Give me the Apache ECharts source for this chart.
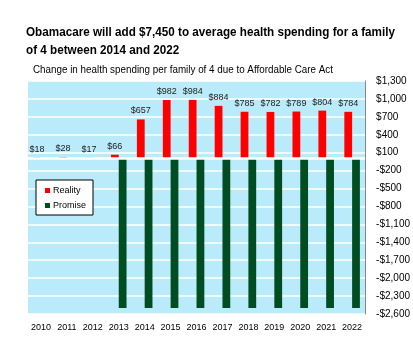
<!DOCTYPE html>
<html>
<head>
<meta charset="utf-8">
<script src="https://cdn.jsdelivr.net/npm/echarts@6/dist/echarts.min.js"></script>
<style>html,body{margin:0;padding:0;background:#fff}#c{width:413px;height:343px}</style>
</head>
<body>
<div id="c"></div>
<script>
var years = ['2010','2011','2012','2013','2014','2015','2016','2017','2018','2019','2020','2021','2022'];
var reality = [18, 28, 17, 66, 657, 982, 984, 884, 785, 782, 789, 804, 784];
var promise = [null, null, null, -2500, -2500, -2500, -2500, -2500, -2500, -2500, -2500, -2500, -2500];
var yMin = -2600, yMax = 1300, yStep = 300;
var titleLine1 = 'Obamacare will add $7,450 to average health spending for a family';
var titleLine2 = 'of 4 between 2014 and 2022';
var subText = 'Change in health spending per family of 4 due to Affordable Care Act';

var ff = '"Liberation Sans", Arial, sans-serif';
var titleFont = 'bold 13px ' + ff;
var subFont = '10px ' + ff;
var ctx = document.createElement('canvas').getContext('2d');
function fitScale(font, text, target){
  ctx.font = font;
  var w = ctx.measureText(text).width;
  return Math.min(1, target / w);
}
var sTitle = fitScale(titleFont, titleLine1, 369);
var sSub = fitScale(subFont, subText, 300);

function money(v){
  var s = Math.abs(v).toLocaleString('en-US');
  return (v < 0 ? '-$' : '$') + s;
}
var chart = echarts.init(document.getElementById('c'));
chart.setOption({
  animation: false,
  backgroundColor: '#ffffff',
  graphic: [
    {type: 'text', x: 26, y: 32, scaleX: sTitle, originX: 0, originY: 0,
     style: {text: titleLine1, font: titleFont, fill: '#000', align: 'left', verticalAlign: 'middle'}},
    {type: 'text', x: 26, y: 50, scaleX: sTitle, originX: 0, originY: 0,
     style: {text: titleLine2, font: titleFont, fill: '#000', align: 'left', verticalAlign: 'middle'}},
    {type: 'text', x: 33, y: 70, scaleX: sSub, originX: 0, originY: 0,
     style: {text: subText, font: subFont, fill: '#000', align: 'left', verticalAlign: 'middle'}}
  ],
  legend: {
    orient: 'vertical', left: 36, top: 180,
    backgroundColor: '#fff', borderColor: '#000', borderWidth: 1, borderRadius: 0,
    padding: [5, 7, 4, 9], itemGap: 4, itemWidth: 5, itemHeight: 5, icon: 'rect',
    textStyle: {fontFamily: ff, fontSize: 9, color: '#000', lineHeight: 11, padding: [0,0,0,-2]},
    data: ['Reality', 'Promise']
  },
  grid: {left: 28, right: 46, top: 81, bottom: 29, show: true, backgroundColor: '#B9EBFB', borderWidth: 0},
  xAxis: {
    type: 'category', data: years,
    axisLine: {show: false}, axisTick: {show: false},
    axisLabel: {fontFamily: ff, fontSize: 9, color: '#000', margin: 9, interval: 0}
  },
  yAxis: {
    type: 'value', position: 'right', min: yMin, max: yMax, interval: yStep,
    axisLine: {show: true, lineStyle: {color: '#888', width: 1}},
    axisTick: {show: false},
    splitLine: {show: true, lineStyle: {color: '#ffffff', width: 1.5}},
    axisLabel: {fontFamily: ff, fontSize: 10, color: '#000', margin: 11, formatter: money}
  },
  series: [{
    name: 'Reality', type: 'bar', data: reality,
    barGap: '0%', barCategoryGap: '40%',
    itemStyle: {color: '#FF0000'},
    label: {show: true, position: 'top', distance: 4, fontFamily: ff, fontSize: 9, color: '#222', formatter: function(p){return money(p.value);}},
    markLine: {silent: true, symbol: 'none', label: {show: false}, lineStyle: {color: '#fff', width: 2.5, type: 'solid'}, data: [{yAxis: 0}]}
  }, {
    name: 'Promise', type: 'bar', data: promise,
    itemStyle: {color: '#004D21'}
  }]
});
</script>
</body>
</html>
